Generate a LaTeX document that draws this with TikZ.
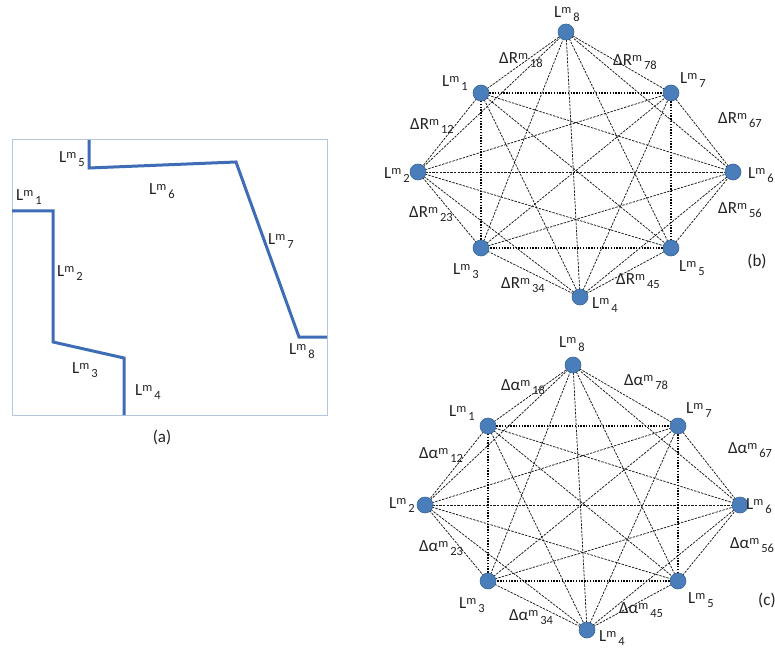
\documentclass[tikz,border=0pt]{standalone}
\usepackage{fontspec}
\setmainfont{Carlito}
\pgfdeclarelayer{bg}
\pgfsetlayers{bg,main}
\definecolor{vblue}{HTML}{4A7EBB}
\definecolor{lblue}{HTML}{3E6DB5}
\definecolor{boxc}{HTML}{B4C6DC}
\definecolor{txt}{HTML}{222222}
\newcommand{\Lab}[3]{#1\raisebox{0.5ex}{\fontsize{12.5}{12.5}\selectfont #2}\raisebox{-0.5ex}{\fontsize{12.5}{12.5}\selectfont\,#3}}
\tikzset{
  vert/.style={circle, fill=vblue, draw=vblue!80!black, line width=0.6pt, inner sep=0pt, minimum size=16pt},
  lab/.style={font=\fontsize{17}{17}\selectfont, text=txt, inner sep=0pt},
  sedge/.style={draw=black!90, line width=0.75pt, dash pattern=on 2.4pt off 1.2pt},
  qedge/.style={draw=black, line width=1.5pt, dash pattern=on 1.4pt off 1.4pt},
  wall/.style={draw=lblue, line width=3pt, line join=miter},
}
\begin{document}
\begin{tikzpicture}[x=1pt,y=-1pt]
\useasboundingbox (0,0) rectangle (775,652);
% ---------- panel (a)
\draw[boxc, line width=1pt] (12,140) rectangle (327,415);
\coordinate (p1) at (12,211);
\coordinate (p4) at (124,415);
\coordinate (q1) at (89,140);
\coordinate (q5) at (327,337);
\draw[wall] (p1) -- (53,211) -- (53,342) -- (124,358) -- (p4);
\draw[wall] (q1) -- (89,168) -- (236,162) -- (299,337) -- (q5);
\node[lab] (a1) at (29,197) {\Lab{L}{m}{1}};
\node[lab] (a5) at (72,159) {\Lab{L}{m}{5}};
\node[lab] (a6) at (162,191) {\Lab{L}{m}{6}};
\node[lab] (a2) at (70,273) {\Lab{L}{m}{2}};
\node[lab] (a7) at (281,241) {\Lab{L}{m}{7}};
\node[lab] (a8) at (302,351) {\Lab{L}{m}{8}};
\node[lab] (a3) at (85,370) {\Lab{L}{m}{3}};
\node[lab] (a4) at (148,392) {\Lab{L}{m}{4}};
\node[lab] (acap) at (162,437) {(a)};
% ---------- graphs
\foreach \p/\ox/\oy in {b/0/0, c/7/333}{
  \node[vert] (\p8) at (566+\ox,32+\oy) {};
  \node[vert] (\p1) at (481+\ox,93+\oy) {};
  \node[vert] (\p7) at (671+\ox,93+\oy) {};
  \node[vert] (\p2) at (418+\ox,172+\oy) {};
  \node[vert] (\p6) at (733+\ox,172+\oy) {};
  \node[vert] (\p3) at (481+\ox,248+\oy) {};
  \node[vert] (\p5) at (671+\ox,248+\oy) {};
  \node[vert] (\p4) at (580+\ox,297+\oy) {};
  \begin{pgfonlayer}{bg}
  \foreach \i/\j in {1/2,1/4,1/5,1/6,1/8,2/3,2/4,2/5,2/6,2/7,2/8,3/4,3/6,3/7,3/8,4/5,4/6,4/7,4/8,5/6,5/8,6/7,6/8,7/8}
    \draw[sedge] (\p\i.center) -- (\p\j.center);
  \foreach \i/\j in {1/7,7/5,5/3,3/1}
    \draw[qedge] (\p\i.center) -- (\p\j.center);
  \end{pgfonlayer}
}
% labels (b)
\node[lab] (lb8) at (567,14) {\Lab{L}{m}{8}};
\node[lab] (lb1) at (455,83) {\Lab{L}{m}{1}};
\node[lab] (lb7) at (693,80) {\Lab{L}{m}{7}};
\node[lab] (lb2) at (397,175) {\Lab{L}{m}{2}};
\node[lab, anchor=west] (lb6) at (748,175) {\Lab{L}{m}{6}};
\node[lab] (lb3) at (466,271) {\Lab{L}{m}{3}};
\node[lab] (lb5) at (692,268) {\Lab{L}{m}{5}};
\node[lab] (lb4) at (605,305) {\Lab{L}{m}{4}};
\node[lab] (rb18) at (521,60) {\Lab{ΔR}{m}{18}};
\node[lab] (rb78) at (635,62) {\Lab{ΔR}{m}{78}};
\node[lab] (rb12) at (432,126) {\Lab{ΔR}{m}{12}};
\node[lab] (rb67) at (740,120) {\Lab{ΔR}{m}{67}};
\node[lab] (rb23) at (431,214) {\Lab{ΔR}{m}{23}};
\node[lab] (rb56) at (740,210) {\Lab{ΔR}{m}{56}};
\node[lab] (rb34) at (523,285) {\Lab{ΔR}{m}{34}};
\node[lab] (rb45) at (638,281) {\Lab{ΔR}{m}{45}};
\node[lab] (bcap) at (757,261) {(b)};
% labels (c)
\node[lab] (lc8) at (572,344) {\Lab{L}{m}{8}};
\node[lab] (lc1) at (462,413) {\Lab{L}{m}{1}};
\node[lab] (lc7) at (699,410) {\Lab{L}{m}{7}};
\node[lab] (lc2) at (402,505) {\Lab{L}{m}{2}};
\node[lab, anchor=west] (lc6) at (746,506) {\Lab{L}{m}{6}};
\node[lab] (lc3) at (472,605) {\Lab{L}{m}{3}};
\node[lab] (lc5) at (701,600) {\Lab{L}{m}{5}};
\node[lab] (lc4) at (612,638) {\Lab{L}{m}{4}};
\node[lab] (ac18) at (523,387) {\Lab{Δα}{m}{18}};
\node[lab] (ac78) at (646,382) {\Lab{Δα}{m}{78}};
\node[lab] (ac12) at (441,455) {\Lab{Δα}{m}{12}};
\node[lab] (ac67) at (750,450) {\Lab{Δα}{m}{67}};
\node[lab] (ac23) at (441,548) {\Lab{Δα}{m}{23}};
\node[lab] (ac56) at (752,545) {\Lab{Δα}{m}{56}};
\node[lab] (ac34) at (531,617) {\Lab{Δα}{m}{34}};
\node[lab] (ac45) at (641,610) {\Lab{Δα}{m}{45}};
\node[lab, anchor=west] (ccap) at (758,600) {(c)};
\end{tikzpicture}
\end{document}
